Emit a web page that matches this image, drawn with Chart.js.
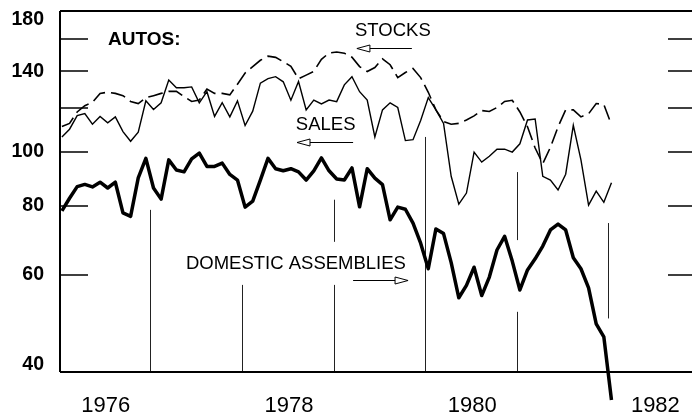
<!DOCTYPE html>
<html>
<head>
<meta charset="utf-8">
<script src="https://cdn.jsdelivr.net/npm/chart.js@4.4.0/dist/chart.umd.min.js"></script>
<style>
  html, body { margin: 0; padding: 0; background: #fff; }
  #wrap { width: 692px; height: 418px; }
</style>
</head>
<body>
<div id="wrap"><canvas id="autosChart" width="692" height="418"></canvas></div>
<script>
// monthly, Jan 1976 .. Jan 1982 (log scale, index values)
const stocks = [
    111.2, 112.7, 118.2, 121.3, 123.0, 127.7, 128.3, 127.7, 126.5, 123.5, 122.4, 125.4,
    126.5, 127.7, 128.8, 128.8, 126.0, 123.5, 124.2, 130.0, 127.7, 127.7, 126.9, 132.7,
    139.0, 142.8, 146.6, 149.1, 148.4, 145.7, 143.0, 135.7, 137.8, 140.0, 147.2, 151.1,
    151.7, 151.0, 148.5, 142.8, 139.9, 142.2, 147.5, 143.9, 136.4, 139.3, 141.7, 136.4,
    128.3, 119.2, 113.6, 112.3, 112.7, 114.3, 116.3, 118.9, 118.4, 120.4, 123.5, 124.1,
    118.2, 111.1, 101.7, 95.3, 102.0, 111.1, 119.2, 119.2, 115.8, 117.3, 122.4, 121.9,
    112.0
];
const sales = [
    106.5, 110.0, 116.4, 117.4, 112.3, 116.0, 113.0, 115.8, 108.9, 104.6, 108.6, 123.8,
    119.4, 122.8, 135.0, 130.7, 130.7, 131.2, 122.8, 128.6, 116.0, 122.8, 115.8, 123.8,
    111.7, 118.6, 133.3, 135.8, 136.9, 134.0, 124.1, 134.2, 119.2, 124.2, 122.2, 124.2,
    123.4, 132.3, 136.9, 128.6, 124.2, 106.5, 119.2, 122.8, 120.4, 104.9, 105.3, 114.1,
    125.5, 119.2, 112.7, 90.4, 80.5, 84.3, 100.0, 95.9, 98.3, 101.2, 101.2, 100.0,
    103.5, 114.3, 114.8, 90.4, 89.0, 85.4, 91.2, 111.8, 96.8, 80.2, 85.0, 81.1,
    88.0
];
const assemblies = [
    78.3, 82.5, 86.6, 87.4, 86.5, 88.2, 86.1, 88.2, 77.6, 76.5, 89.8, 97.4,
    86.1, 82.2, 96.8, 92.8, 92.1, 97.2, 99.6, 94.2, 94.2, 95.5, 91.1, 89.0,
    79.5, 81.5, 89.0, 97.4, 93.3, 92.5, 93.3, 92.1, 89.0, 92.5, 97.6, 92.5,
    89.4, 89.0, 93.6, 79.6, 93.3, 89.7, 87.3, 75.4, 79.5, 78.8, 74.4, 68.4,
    61.5, 72.6, 71.2, 63.1, 54.5, 57.4, 61.9, 55.0, 59.4, 66.5, 70.4, 63.5,
    56.3, 61.2, 64.1, 67.6, 72.3, 74.1, 72.3, 64.4, 61.5, 56.8, 48.9, 46.3,
    35.6
];
const yTickValues = [60, 80, 100, 120, 140, 160];
const yLabelValues = [180, 140, 100, 80, 60, 40];
const yearLabels = ['1976', '1978', '1980', '1982'];

// year separators: [month, from value, to value]
const separators = [
    [12, 78.6, 40], [24, 57.5, 40], [36, 82, 68.8], [36, 57.5, 40],
    [48, 106.5, 40], [60, 92, 69.3], [60, 51.4, 40], [72, 74.4, 50]
];

const FONT = '"Liberation Sans", Arial, Helvetica, sans-serif';
const toPoints = arr => arr.map((v, i) => ({ x: i + 0.25, y: v }));

function arrow(ctx, x1, x2, y, dir) {
    ctx.beginPath();
    ctx.moveTo(x1, y);
    ctx.lineTo(x2, y);
    ctx.stroke();
    const tip = dir < 0 ? x1 : x2;
    const base = tip - dir * 13;
    ctx.beginPath();
    ctx.moveTo(tip, y);
    ctx.lineTo(base, y - 3.5);
    ctx.lineTo(base, y + 3.5);
    ctx.closePath();
    ctx.fillStyle = '#fff';
    ctx.fill();
    ctx.stroke();
}

const framePlugin = {
    id: 'frame',
    beforeDatasetsDraw(chart) {
        const { ctx, scales: { x, y } } = chart;
        ctx.save();
        ctx.strokeStyle = '#222';
        ctx.lineWidth = 1;
        separators.forEach(s => {
            const px = Math.round(x.getPixelForValue(s[0] - 0.15)) + 0.5;
            ctx.beginPath();
            ctx.moveTo(px, y.getPixelForValue(s[1]));
            ctx.lineTo(px, y.getPixelForValue(s[2]));
            ctx.stroke();
        });
        ctx.restore();
    },
    afterDatasetsDraw(chart) {
        const { ctx, chartArea: ca, scales: { x, y } } = chart;
        ctx.save();
        ctx.strokeStyle = '#000';
        ctx.lineWidth = 2;
        ctx.beginPath();
        ctx.moveTo(ca.left, ca.top);
        ctx.lineTo(ca.left, ca.bottom);
        ctx.moveTo(ca.left, ca.top);
        ctx.lineTo(ca.right, ca.top);
        ctx.moveTo(ca.left, ca.bottom);
        ctx.lineTo(ca.right, ca.bottom);
        ctx.stroke();

        ctx.lineWidth = 1.5;
        yTickValues.forEach(v => {
            const py = Math.round(y.getPixelForValue(v));
            ctx.beginPath();
            ctx.moveTo(ca.left, py);
            ctx.lineTo(ca.left + 28, py);
            ctx.moveTo(ca.right - 24, py);
            ctx.lineTo(ca.right, py);
            ctx.stroke();
        });

        ctx.fillStyle = '#000';
        ctx.font = 'bold 19.5px ' + FONT;
        ctx.textAlign = 'right';
        ctx.textBaseline = 'middle';
        yLabelValues.forEach(v => {
            let py = y.getPixelForValue(v);
            py = Math.min(Math.max(py, ca.top + 9), ca.bottom - 7);
            ctx.fillText(String(v), 44, py);
        });

        ctx.font = '22px ' + FONT;
        ctx.textAlign = 'center';
        yearLabels.forEach(lbl => {
            const px = x.getPixelForValue((+lbl - 1976) * 12 + 6);
            ctx.fillText(lbl, px, ca.bottom + 34);
        });

        ctx.textAlign = 'left';
        ctx.font = 'bold 19px ' + FONT;
        ctx.fillText('AUTOS:', x.getPixelForValue(6.3), y.getPixelForValue(159.5));
        ctx.font = '18.5px ' + FONT;
        ctx.fillText('STOCKS', x.getPixelForValue(38.65), y.getPixelForValue(165.7));
        ctx.fillText('SALES', x.getPixelForValue(30.9), y.getPixelForValue(112));
        ctx.fillText('DOMESTIC ASSEMBLIES', x.getPixelForValue(16.5), y.getPixelForValue(62.7));

        ctx.lineWidth = 1;
        arrow(ctx, x.getPixelForValue(38.9), x.getPixelForValue(46.1), Math.round(y.getPixelForValue(154.5)) + 0.5, -1);
        arrow(ctx, x.getPixelForValue(31.05), x.getPixelForValue(38.4), Math.round(y.getPixelForValue(104.4)) + 0.5, -1);
        arrow(ctx, x.getPixelForValue(38.4), x.getPixelForValue(45.6), Math.round(y.getPixelForValue(58.7)) + 0.5, 1);
        ctx.restore();
    }
};

new Chart(document.getElementById('autosChart').getContext('2d'), {
    type: 'line',
    data: {
        datasets: [
            { label: 'Stocks', data: toPoints(stocks), borderColor: '#000', borderWidth: 1.6, borderDash: [15, 6], pointRadius: 0, tension: 0, fill: false },
            { label: 'Sales', data: toPoints(sales), borderColor: '#000', borderWidth: 1.4, pointRadius: 0, tension: 0, fill: false },
            { label: 'Domestic assemblies', data: toPoints(assemblies), borderColor: '#000', borderWidth: 3.5, pointRadius: 0, tension: 0, fill: false, clip: false, borderJoinStyle: 'round' }
        ]
    },
    options: {
        responsive: false,
        animation: false,
        layout: { padding: { left: 60, right: 0, top: 11, bottom: 46 } },
        scales: {
            x: { type: 'linear', min: 0, max: 82.8, display: false },
            y: { type: 'logarithmic', min: 40, max: 180, display: false }
        },
        plugins: { legend: { display: false }, tooltip: { enabled: false } }
    },
    plugins: [framePlugin]
});
</script>
</body>
</html>
